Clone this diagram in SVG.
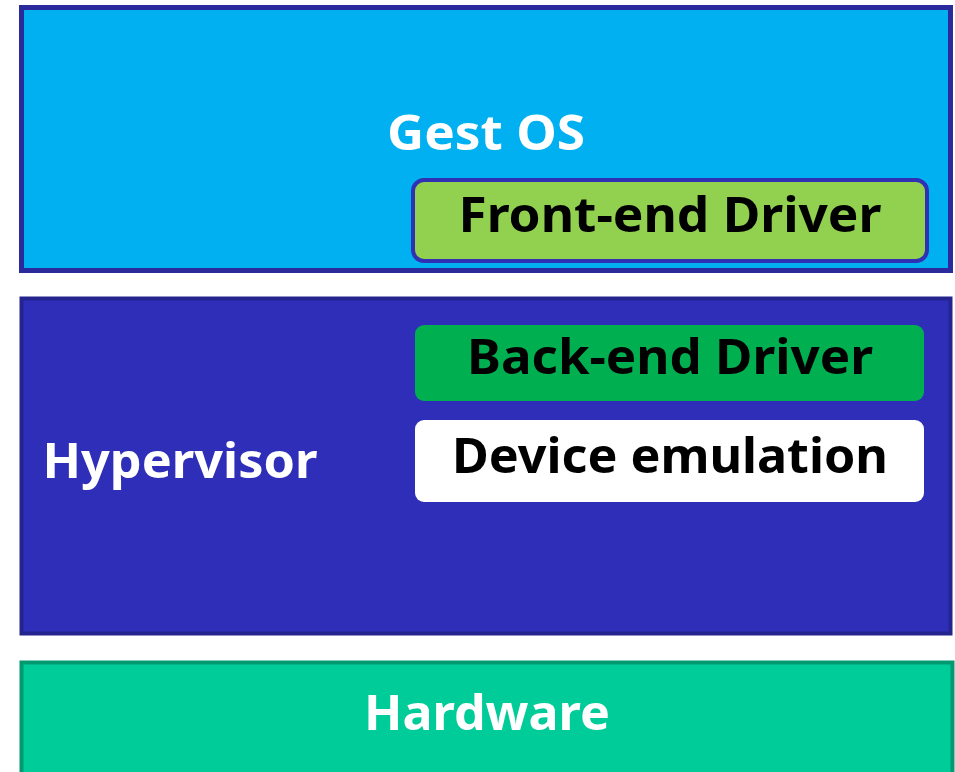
<svg xmlns="http://www.w3.org/2000/svg" width="955" height="772" viewBox="0 0 955 772">
<style>
.t{font-family:"Noto Sans","Open Sans","DejaVu Sans",sans-serif;font-weight:bold;font-size:48px;text-anchor:middle}
.w{fill:#ffffff}
.k{fill:#000000}
</style>
<rect width="955" height="772" fill="#ffffff"/>
<g id="guest-os">
<rect x="21.5" y="7.5" width="929" height="263" fill="#00B0F0" stroke="#2A2A9C" stroke-width="5"/>
<text class="t w" x="486" y="150" textLength="198" lengthAdjust="spacingAndGlyphs">Gest OS</text>
</g>
<g id="front-end-driver">
<rect x="413" y="180" width="514" height="81" rx="11" fill="#92D050" stroke="#3030B4" stroke-width="4"/>
<text class="t k" x="670" y="232" textLength="423" lengthAdjust="spacingAndGlyphs">Front-end Driver</text>
</g>
<g id="hypervisor">
<rect x="21.5" y="298.5" width="929" height="335" fill="#2E2EB8" stroke="#24248E" stroke-width="4"/>
<text class="t w" x="180" y="478" textLength="275" lengthAdjust="spacingAndGlyphs">Hypervisor</text>
</g>
<g id="back-end-driver">
<rect x="415" y="325" width="509" height="76" rx="9" fill="#00B050"/>
<text class="t k" x="670" y="374" textLength="406" lengthAdjust="spacingAndGlyphs">Back-end Driver</text>
</g>
<g id="device-emulation">
<rect x="415" y="420" width="509" height="82" rx="9" fill="#ffffff"/>
<text class="t k" x="670" y="473" textLength="436" lengthAdjust="spacingAndGlyphs">Device emulation</text>
</g>
<g id="hardware">
<rect x="21.5" y="662.5" width="931" height="115" fill="#00CC99" stroke="#009970" stroke-width="4"/>
<text class="t w" x="487" y="730" textLength="246" lengthAdjust="spacingAndGlyphs">Hardware</text>
</g>
<g id="connectors"/>
</svg>
